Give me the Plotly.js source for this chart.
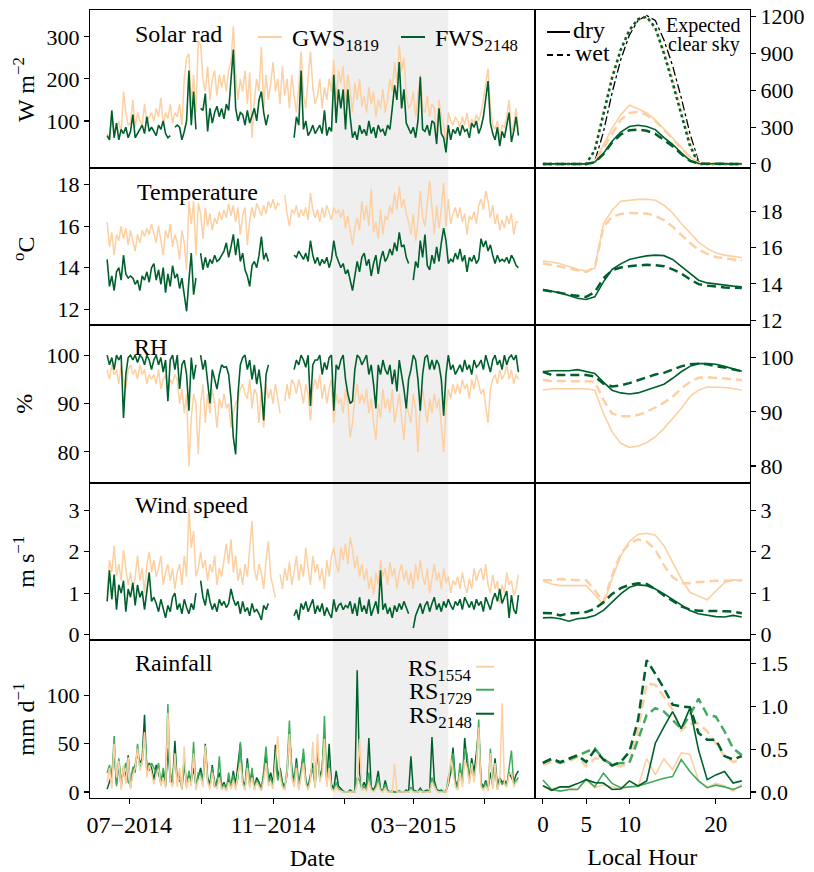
<!DOCTYPE html>
<html><head><meta charset="utf-8">
<script src="https://cdn.plot.ly/plotly-3.0.1.min.js"></script>
<style>body{margin:0;background:#fff}#plot{width:814px;height:872px}</style>
</head><body><div id="plot"></div>
<script>
// ---------------- DATA ----------------
const startDate = '2014-06-12';
const stepDays = 2;
const shadeStart = '2014-12-22';
const shadeEnd = '2015-03-31';

const solarGWS = [70,60,110,75,85,100,70,170,120,90, 95,150,85,120,100,90,140,95,110,120,
 100,130,110,155,90,120,105,140,95,120, 110,140,90,200,250,260,140,210,120,290,
 280,200,170,230,150,200,220,160,210,180, 210,170,220,240,325,210,150,200,170,220,
 140,215,60,150,200,170,275,130,210,150, 190,240,170,200,140,230,160,200,130,210,
 160,120,180,265,160,130,200,265,180,140, 160,200,130,180,150,200,170,245,150,220,
 190,230,140,210,170,120,190,150,200,135, 160,120,180,140,170,110,150,130,175,120,
 150,200,170,240,190,280,220,250,160,130, 140,170,110,160,210,130,120,160,110,140,
 130,60,150,110,90,40,120,100,90,110, 100,85,110,90,120,80,105,95,115,100,
 120,150,190,225,130,90,80,100,60,90, 85,110,150,70,95,130,80];
const solarFWS = [65,55,125,60,95,55,80,70,85,60, 75,115,60,70,80,90,70,110,75,85,
 75,65,90,80,100,70,60,65,null,85, 90,85,55,75,100,220,90,170,80,null,
 130,125,165,75,130,95,120,135,110,130, 105,140,125,200,270,130,100,120,115,90,
 125,95,110,130,100,150,170,120,90,115, null,null,null,null,null,null,null,null,null,null,
 60,110,90,220,80,100,65,75,90,70, 80,90,70,125,65,85,75,210,95,175,
 130,175,80,175,110,60,75,55,90,70, 80,65,100,70,85,60,90,75,80,65,
 90,80,130,185,150,240,130,175,95,80, 70,85,60,100,205,80,75,90,65,100,
 95,45,130,70,60,25,90,55,80,70, 85,65,90,75,80,60,95,85,100,70,
 85,110,150,195,95,70,55,85,40,75, 60,95,120,50,75,110,65];

const tempGWS = [16.2,15.0,15.7,14.6,15.6,15.3,16.0,15.4,15.9,15.1, 15.8,15.3,14.8,15.6,15.2,15.8,15.5,15.9,15.6,16.1,
 15.7,15.2,16.0,15.3,14.6,15.8,15.4,16.1,15.0,15.6, 15.2,14.4,15.8,15.2,13.9,17.2,16.1,17.2,14.6,17.1,
 16.6,15.4,16.9,16.0,16.6,15.8,16.4,16.1,16.7,16.3, 16.8,16.4,17.1,16.5,17.0,16.2,16.9,15.6,16.5,16.9,
 15.1,16.3,16.9,16.4,17.1,16.8,16.5,17.0,16.6,17.2, 16.9,17.3,16.8,17.1,17.0,null,17.5,16.6,16.0,16.8,
 16.6,17.0,16.4,16.8,16.5,16.9,16.3,17.6,16.8,16.4, 16.8,16.2,16.9,16.4,17.0,16.6,16.3,16.9,16.6,16.8,
 16.4,16.8,15.9,16.5,15.7,15.1,15.9,16.4,15.8,17.2, 16.3,17.0,16.0,17.8,15.7,16.2,15.4,16.8,15.6,16.5,
 16.3,17.0,16.6,17.6,16.8,17.9,16.9,17.3,16.6,16.2, 15.6,16.6,15.3,16.2,17.7,16.4,16.0,17.2,18.2,16.9,
 15.6,17.0,15.9,16.8,18.1,16.0,17.3,16.1,16.6,16.9, 16.4,16.9,16.2,16.6,15.6,16.5,16.3,16.7,16.1,17.0,
 17.3,16.8,17.7,17.2,16.4,17.0,16.1,16.6,15.8,16.3, 15.9,16.5,16.1,16.6,15.6,16.2,16.2];
const tempFWS = [14.4,13.1,13.6,12.9,13.8,14.0,13.4,14.6,13.7,13.5, 13.6,13.5,13.2,13.4,12.9,13.6,13.4,13.8,13.3,14.0,
 14.2,13.4,13.9,13.2,14.0,12.8,13.7,13.1,14.1,13.5, 13.7,13.0,13.5,12.6,11.9,13.4,14.7,12.7,13.5,null,
 14.7,13.9,14.5,14.0,14.4,14.2,14.6,14.3,14.4,14.6, 14.8,15.2,14.5,15.0,15.6,14.6,15.4,14.3,14.7,13.9,
 13.6,13.1,14.1,14.3,14.0,14.6,15.5,14.4,14.7,14.3, null,null,null,null,null,null,null,null,null,null,
 14.6,14.5,14.8,14.6,14.4,14.7,14.3,15.3,14.6,14.2, 14.5,14.1,14.4,14.2,14.5,14.0,14.4,15.3,14.6,14.3,
 14.0,14.2,13.7,13.9,13.4,12.9,13.6,14.3,13.8,14.5, 14.7,14.1,14.4,13.6,14.2,14.6,13.7,14.4,14.8,14.3,
 14.5,14.9,14.6,15.2,14.8,15.7,15.0,15.1,14.5,14.2, null,13.4,14.3,14.0,15.3,14.5,15.6,14.1,13.9,14.6,
 14.2,15.0,14.3,15.2,15.9,15.3,14.2,14.4,14.3,14.7, 14.4,14.9,14.3,14.6,13.8,14.5,14.3,14.6,14.2,14.4,
 15.4,15.0,15.3,14.8,15.1,14.6,14.2,14.6,14.3,14.4, 14.3,14.5,14.2,14.6,14.4,14.1,14.0];

const rhGWS = [97,95,98,96,97,94,98,95,93,97, 98,96,97,95,98,96,97,94,96,95,
 96,94,97,93,95,96,92,95,94,96, 95,90,93,88,92,77,87,92,90,79.5,
 90,94,86,92,88,93,90,85,91,89, 92,89,90,85,88,90,91,93,94,92,
 91,95,89,93,92,86,93,85,94,91, 93,90,94,91,88,null,90.5,94,91,95,
 94,92,95,93,90,94,92,86.5,93,95, 93,96,91,94,90,93,95,86,92,90,
 91,88,93,90,83,86,91,94,90,92, 90,93,88,91,86,82.5,90,87,93,89,
 91,88,93,86,89,92,87,82.5,90,88, 86,92,89,80,90,93,89,86,91,88,
 92,89,91,86,80,89,93,91,94,92, 94,92,95,93,94,91,95,93,96,94,
 92,93,89.5,86,93,95,96,94,97,95, 96,98,95,97,94,96,95];
const rhFWS = [100,98,99.5,97,100,99,100,87,96,99.5, 100,99,100,98.5,100,99.5,98,100,99,97,
 99,100,98,99.5,96.5,99,90.5,99,100,97, 100,93,98,99,96,88.5,99.5,95,98,null,
 100,97,99,94,90,97,95,93,96,98, 97.5,97.6,96,91,83,79.5,92,98,99.5,100,
 97,99,95,98,94,97,93,86.5,96,98, null,null,null,null,null,null,null,null,null,null,
 97,99,98,100,99,97.5,100,89.5,98,99, 99,100,96,98.5,97,99.5,100,88.5,98,97,
 99,100,95,92,90,90.5,97,100,99.5,98, 99,100,96,98,94,89,98,96,99,97,
 96,98,94,97,92.5,99,96,93,89,95, 97,100,99,95,88.5,96,99.5,100,97,99,
 97,99,98,95,87.5,96,100,97,98,96, 97,98,96.5,99,97,98,96,99,97.5,98,
 99,97,100,98,96.5,99,100,98,99,97, 100,98,99.5,100,99,100,96.5];

const windGWS = [1.0,1.8,1.5,2.15,1.4,1.7,1.3,2.05,1.6,1.2, 1.5,1.1,1.4,1.9,1.3,1.6,1.0,1.7,2.0,1.5,
 1.8,1.4,1.6,1.9,1.2,1.5,1.7,1.3,1.6,1.1, 1.5,1.7,1.2,1.9,1.4,3.05,2.1,2.5,1.4,1.6,
 2.0,1.6,1.8,1.3,1.7,1.5,1.9,1.2,1.6,1.4, 1.8,2.2,1.7,2.3,1.5,1.9,1.3,1.6,1.2,1.7,
 1.4,2.0,2.75,1.6,1.3,1.7,1.5,1.1,1.8,2.25, 1.4,1.15,0.9,null,1.45,1.1,1.6,1.3,1.75,1.2,
 1.5,1.9,1.3,1.7,1.4,2.1,1.6,1.2,1.9,1.5, 1.7,1.3,1.6,1.1,1.8,1.4,1.9,2.1,1.7,1.5,
 2.1,1.8,2.2,1.7,2.35,2.05,1.6,1.9,1.4,1.7, 1.3,1.6,1.1,1.4,0.95,1.5,1.2,1.8,1.4,1.6,
 1.2,1.75,1.4,1.6,1.1,1.5,1.7,1.3,1.55,1.2, 1.5,1.1,1.7,1.3,1.8,1.4,1.2,1.6,1.0,1.4,
 1.7,1.3,1.5,1.1,1.6,1.25,1.4,1.0,1.3,1.2, 1.4,1.1,1.5,1.2,1.0,1.35,1.1,1.6,1.3,1.5,
 1.6,1.3,1.7,1.2,1.0,1.45,1.1,1.3,0.75,1.2, 1.0,1.5,1.2,1.3,0.95,1.1,1.45];
const windFWS = [0.8,1.55,0.85,1.45,0.6,1.2,1.0,1.3,0.55,1.1, 0.9,1.25,0.7,1.2,0.9,1.05,0.6,1.0,1.5,0.8,
 0.9,0.75,0.55,0.85,0.65,0.4,0.7,0.55,0.9,1.0, 0.6,0.75,0.5,0.85,0.65,0.5,0.75,0.6,1.0,null,
 1.3,0.9,0.7,1.1,0.8,0.6,0.75,0.55,0.85,0.7, 0.8,0.65,0.75,1.1,0.85,0.7,0.8,0.5,0.8,0.55,
 0.65,0.45,0.75,0.55,0.6,0.5,0.35,0.7,0.6,0.75, null,null,null,null,null,null,null,null,null,null,
 0.45,0.6,0.35,0.75,0.6,0.8,0.55,0.7,0.85,0.5, 0.7,0.55,0.75,0.45,0.65,0.5,0.4,0.85,0.55,0.7,
 0.75,0.6,0.7,0.65,0.8,0.5,0.75,0.45,0.9,0.55, 0.7,0.5,0.85,0.45,0.6,0.8,0.5,1.55,0.6,0.75,
 0.5,0.65,0.4,0.7,0.55,0.75,0.6,0.8,0.65,0.5, null,0.15,0.45,0.6,0.75,0.5,0.7,0.8,0.55,0.75,
 0.9,0.6,0.75,0.55,0.8,0.65,0.85,0.7,0.6,0.8, 0.7,0.85,0.6,0.9,0.75,0.65,0.8,0.6,0.85,0.7,
 0.8,0.55,0.9,0.75,0.6,0.85,1.0,0.8,1.1,0.75, 0.9,1.05,0.4,0.95,0.6,0.5,0.95];

const rain2148 = [3,10,18,45,8,30,5,25,15,38, 5,22,28,40,30,35,80,20,30,25,
 12,28,18,10,20,6,45,15,8,53, 10,20,3,30,8,18,12,25,6,15,
 25,10,50,15,8,28,5,12,20,6, 10,3,14,6,22,8,28,50,12,6,
 35,8,20,5,15,10,3,18,40,12, 20,8,49,15,25,10,5,18,60,25,
 10,35,6,22,40,12,5,18,30,8, 45,15,25,60,10,50,8,3,22,6,
 3,1,0,0,2,0,1,126,20,5, 10,4,56,5,2,8,22,3,1,12,
 2,0,1,0,0,1,0,0,2,0, 37,2,1,0,4,0,1,2,0,57,
 12,3,1,2,0,1,8,20,46,12, 5,25,10,56,30,15,35,20,40,65,
 10,5,12,3,20,8,35,5,15,10, 12,8,20,15,10,18,22];
const rain1729 = [20,28,10,58,6,35,12,20,30,10, 8,26,20,50,25,30,60,28,22,30,
 25,20,30,8,25,12,91,10,20,30, 15,12,8,35,5,22,10,52,4,20,
 20,8,45,12,5,25,10,6,37,4, 8,2,20,4,18,5,15,52,10,3,
 30,6,25,3,12,8,2,22,47,10, 15,5,35,12,20,8,3,25,74,20,
 8,30,4,18,45,10,3,15,25,5, 48,12,20,79,8,30,5,2,10,3,
 2,0,0,0,1,0,0,15,12,3, 6,2,20,3,1,5,15,2,1,8,
 1,0,0,0,0,0,0,0,1,0, 5,1,0,0,2,0,0,1,0,15,
 8,2,0,1,0,0,15,25,40,10, 3,30,8,45,40,12,25,15,30,75,
 8,3,10,2,45,5,25,3,12,8, 10,6,25,43,8,12,15];
const rain1554 = [10,25,4,50,15,32,2,28,8,36, 3,18,25,45,22,30,62,15,28,20,
 8,18,24,6,15,4,82,12,5,40, 5,25,2,47,3,14,6,40,2,12,
 15,5,48,10,3,20,6,3,15,2, 5,1,10,3,12,2,20,30,8,2,
 25,4,15,2,10,5,1,12,30,6, 10,3,35,58,15,5,2,20,60,15,
 5,25,2,15,30,8,2,12,52,4, 60,10,18,55,5,25,3,1,5,2,
 1,0,0,0,0,0,0,8,55,2, 3,1,10,2,0,3,8,1,0,4,
 0,0,0,29,0,0,0,0,0,0, 2,0,0,0,1,0,0,0,0,10,
 5,1,0,0,0,0,10,35,20,5, 2,20,5,33,25,8,30,10,28,67,
 5,2,6,1,40,3,30,2,10,92, 8,5,18,20,5,10,12];

// Diurnal (local hour)
const hours = [0,1,2,3,4,5,6,7,8,9,10,11,12,13,14,15,16,17,18,19,20,21,22,23];
const solGWSdry = [0,0,0,0,0,0,20,150,290,400,478,450,415,360,285,210,130,60,5,0,0,0,0,0];
const solGWSwet = [0,0,0,0,0,0,15,130,255,360,415,425,400,350,280,205,125,55,5,0,0,0,0,0];
const solFWSdry = [0,0,0,0,0,0,15,85,185,260,305,315,305,280,215,160,90,30,3,0,0,0,0,0];
const solFWSwet = [0,0,0,0,0,0,12,80,175,240,275,280,270,245,195,145,80,25,2,0,0,0,0,0];
const clearGWS = [0,0,0,0,0,0,130,420,720,940,1095,1175,1195,1100,920,690,440,180,5,0,0,0,0,0];
const clearFWS = [0,0,0,0,0,0,110,400,700,930,1090,1180,1200,1110,900,660,400,150,0,0,0,0,0,0];
const clearModel = [0,0,0,0,0,0,20,260,580,850,1050,1170,1210,1170,1010,800,540,250,20,0,0,0,0,0];
const tGWSdry = [15.25,15.2,15.1,14.95,14.8,14.7,14.85,17.3,18.05,18.55,18.62,18.65,18.66,18.6,18.33,17.9,17.32,16.8,16.3,15.95,15.7,15.58,15.5,15.45];
const tGWSwet = [15.12,15.05,14.95,14.85,14.75,14.66,14.9,17.13,17.69,17.85,17.9,17.9,17.87,17.75,17.5,17.15,16.68,16.25,15.89,15.65,15.48,15.4,15.32,15.27];
const tFWSdry = [13.69,13.6,13.5,13.35,13.2,13.14,13.28,14.11,14.79,15.1,15.34,15.45,15.54,15.58,15.55,15.34,14.97,14.55,14.2,14.05,13.98,13.92,13.87,13.83];
const tFWSwet = [13.66,13.6,13.5,13.4,13.32,13.28,13.55,14.3,14.75,14.9,14.97,15.02,15.05,15.03,14.97,14.8,14.57,14.25,13.98,13.9,13.83,13.8,13.78,13.77];
const rhGWSdry = [94.0,94.26,94.26,94.26,94.26,94.26,94.0,89.7,86.3,84.2,83.45,83.7,84.3,85.4,86.95,88.8,90.6,92.8,94.0,94.6,94.6,94.5,94.3,94.0];
const rhGWSwet = [95.9,95.7,95.7,95.7,95.7,95.7,95.6,92.2,89.7,89.2,89.2,89.4,90.0,90.8,91.7,92.8,94.3,95.5,96.3,96.4,96.3,96.2,96.0,95.9];
const rhFWSdry = [97.4,97.6,97.6,97.6,97.8,97.4,97.1,95.5,94.0,93.5,93.3,93.5,94.0,94.5,95.1,96.2,97.4,98.4,98.9,98.9,98.8,98.4,98.0,97.5];
const rhFWSwet = [97.4,96.8,96.8,96.8,96.8,96.8,96.5,95.2,94.7,94.9,95.3,95.8,96.4,96.9,97.2,97.8,98.4,98.8,98.9,98.8,98.4,98.2,97.8,97.5];
const wGWSdry = [1.30,1.22,1.18,1.18,1.18,1.18,0.96,0.72,1.35,1.90,2.25,2.42,2.45,2.40,2.15,1.75,1.35,1.02,0.92,0.84,1.05,1.25,1.32,1.30];
const wGWSwet = [1.31,1.31,1.34,1.32,1.31,1.31,1.07,0.78,1.43,1.95,2.2,2.30,2.25,2.05,1.67,1.39,1.24,1.24,1.27,1.28,1.30,1.30,1.31,1.31];
const wFWSdry = [0.40,0.41,0.38,0.32,0.38,0.40,0.46,0.58,0.78,0.98,1.14,1.20,1.18,1.10,0.98,0.84,0.70,0.58,0.50,0.46,0.43,0.42,0.46,0.42];
const wFWSwet = [0.52,0.51,0.46,0.51,0.52,0.54,0.62,0.78,0.98,1.12,1.20,1.24,1.22,1.10,0.94,0.81,0.68,0.60,0.57,0.57,0.57,0.56,0.55,0.51];
const r2148dry = [0.073,0.02,0.06,0.06,0.098,0.144,0.11,0.105,0.03,0.035,0.13,0.07,0.13,0.57,0.76,0.94,0.74,0.98,0.49,0.144,0.2,0.24,0.105,0.13];
const r1554dry = [0.073,0.035,0.06,0.05,0.03,0.14,0.05,0.085,0.06,0.035,0.06,0.06,0.39,0.2,0.39,0.26,0.46,0.44,0.13,0.05,0.1,0.07,0.01,0.085];
const r1729dry = [0.14,0.03,0.01,0.03,0.03,0.15,0.06,0.22,0.1,0.05,0.06,0.07,0.1,0.13,0.16,0.18,0.38,0.24,0.13,0.05,0.08,0.06,0.03,0.07];
const r2148wet = [0.34,0.39,0.35,0.39,0.43,0.35,0.49,0.38,0.31,0.35,0.47,0.84,1.54,1.38,1.21,1.02,1.0,0.99,0.69,0.61,0.61,0.42,0.38,0.42];
const r1554wet = [0.32,0.35,0.34,0.36,0.41,0.30,0.39,0.39,0.32,0.30,0.34,0.72,1.27,1.25,1.11,0.96,0.72,0.8,0.8,0.71,0.57,0.42,0.35,0.39];
const r1729wet = [0.34,0.38,0.34,0.38,0.42,0.47,0.51,0.38,0.32,0.34,0.34,0.61,0.9,0.98,0.94,0.84,0.74,0.9,1.09,0.9,0.88,0.71,0.51,0.43];

// ---------------- BUILD ----------------
const dates = solarGWS.map((_, i) => {
  const d = new Date(startDate + 'T00:00:00Z');
  d.setUTCDate(d.getUTCDate() + i * stepDays);
  return d.toISOString().slice(0, 10);
});

const cG = '#fdd0a2', cF = '#00602d', cM = '#41ab5d';
const FONT = 'Liberation Serif, Times New Roman, serif';
const L = 90, R = 750, T = 10, B = 798.3;
const px = x => (x - L) / (R - L);
const py = y => (B - y) / (B - T);
const split = px(534.7);

const traces = [];
function ax(r, right) { const n = 2 * r - (right ? 0 : 1); return n === 1 ? '' : String(n); }
function ts(y, color, r, w) {
  traces.push({x: dates, y, type: 'scatter', mode: 'lines', line: {color, width: w || 1.5},
    xaxis: 'x' + ax(r, false), yaxis: 'y' + ax(r, false), showlegend: false, hoverinfo: 'skip'});
}
function hr(y, color, r, dash, w) {
  traces.push({x: hours, y, type: 'scatter', mode: 'lines', line: {color, width: w || 1.6, dash: dash || 'solid'},
    xaxis: 'x' + ax(r, true), yaxis: 'y' + ax(r, true), showlegend: false, hoverinfo: 'skip'});
}
const DASH = '9px,5px';
ts(solarGWS, cG, 1, 1.5); ts(solarFWS, cF, 1, 1.6);
ts(tempGWS, cG, 2, 1.5); ts(tempFWS, cF, 2, 1.6);
ts(rhGWS, cG, 3, 1.5); ts(rhFWS, cF, 3, 1.6);
ts(windGWS, cG, 4, 1.5); ts(windFWS, cF, 4, 1.6);
ts(rain2148, cF, 5, 1.5); ts(rain1729, cM, 5, 1.5); ts(rain1554, cG, 5, 1.5);

hr(clearModel, '#000', 1, 'dashdot', 1.3);
hr(clearGWS, cG, 1, 'dot', 2.5); hr(clearFWS, cF, 1, 'dot', 2.5);
hr(solGWSdry, cG, 1); hr(solGWSwet, cG, 1, DASH, 2.5);
hr(solFWSdry, cF, 1); hr(solFWSwet, cF, 1, DASH, 2.5);
hr(tGWSdry, cG, 2); hr(tGWSwet, cG, 2, DASH, 2.5);
hr(tFWSdry, cF, 2); hr(tFWSwet, cF, 2, DASH, 2.5);
hr(rhGWSdry, cG, 3); hr(rhGWSwet, cG, 3, DASH, 2.5);
hr(rhFWSdry, cF, 3); hr(rhFWSwet, cF, 3, DASH, 2.5);
hr(wGWSdry, cG, 4); hr(wGWSwet, cG, 4, DASH, 2.5);
hr(wFWSdry, cF, 4); hr(wFWSwet, cF, 4, DASH, 2.5);
hr(r1554wet, cG, 5, DASH, 2.5); hr(r1729wet, cM, 5, DASH, 2.5); hr(r2148wet, cF, 5, DASH, 2.5);
hr(r1554dry, cG, 5); hr(r1729dry, cM, 5); hr(r2148dry, cF, 5);

const tickFont = {family: FONT, size: 22, color: '#000'};
const base = {showline: true, mirror: true, linecolor: '#000', linewidth: 1, showgrid: false, zeroline: false,
  ticks: 'outside', ticklen: 5, tickwidth: 1.1, tickcolor: '#000', tickfont: tickFont, fixedrange: true};

const leftY = [
  {range: [-11, 364], tickvals: [100, 200, 300]},
  {range: [11.23, 18.82], tickvals: [12, 14, 16, 18]},
  {range: [73.6, 106.2], tickvals: [80, 90, 100]},
  {range: [-0.145, 3.67], tickvals: [0, 1, 2, 3]},
  {range: [-6.2, 157], tickvals: [0, 50, 100]}];
const rightY = [
  {range: [-30, 1255], tickvals: [0, 300, 600, 900, 1200]},
  {range: [11.72, 20.4], tickvals: [12, 14, 16, 18]},
  {range: [76.9, 106.0], tickvals: [80, 90, 100]},
  {range: [-0.145, 3.67], tickvals: [0, 1, 2, 3]},
  {range: [-0.07, 1.771], tickvals: [0, 0.5, 1, 1.5], ticktext: ['0.0', '0.5', '1.0', '1.5']}];

const layout = {width: 814, height: 872, margin: {l: L, r: 814 - R, t: T, b: 872 - B},
  paper_bgcolor: '#fff', plot_bgcolor: 'rgba(0,0,0,0)', font: {family: FONT, color: '#000'},
  showlegend: false, shapes: [], annotations: []};

const dateTicks = ['2014-07-01', '2014-09-01', '2014-11-01', '2015-01-01', '2015-03-01', '2015-05-01'];
const dateText = ['07\u22122014', '', '11\u22122014', '', '03\u22122015', ''];

for (let r = 1; r <= 5; r++) {
  const dom = [1 - 0.2 * r, 1 - 0.2 * (r - 1)];
  const lx = 'xaxis' + ax(r, false), rx = 'xaxis' + ax(r, true);
  const ly = 'yaxis' + ax(r, false), ry = 'yaxis' + ax(r, true);
  const bottom = r === 5;
  layout[lx] = Object.assign({}, base, {type: 'date', domain: [0, split], anchor: 'y' + ax(r, false),
    range: ['2014-05-28 08:00', '2015-06-12 22:00'], tickvals: dateTicks, ticktext: dateText,
    showticklabels: bottom, ticks: bottom ? 'outside' : '', tickfont: {family: FONT, size: 24, color: '#000'}});
  layout[rx] = Object.assign({}, base, {domain: [split, 1], anchor: 'y' + ax(r, true), range: [-0.95, 23.95],
    tickvals: [0, 5, 10, 20], showticklabels: bottom, ticks: bottom ? 'outside' : '', tickfont: {family: FONT, size: 23, color: '#000'}});
  layout[ly] = Object.assign({}, base, leftY[r - 1], {domain: dom, anchor: 'x' + ax(r, false)});
  layout[ry] = Object.assign({}, base, rightY[r - 1], {domain: dom, anchor: 'x' + ax(r, true), side: 'right'});
  layout.shapes.push({type: 'rect', xref: 'x' + ax(r, false), yref: 'y' + ax(r, false) + ' domain',
    x0: shadeStart, x1: shadeEnd, y0: 0, y1: 1, fillcolor: '#efefef', line: {width: 0}, layer: 'below'});
}
layout.xaxis9.title = {text: 'Date', font: {family: FONT, size: 24}, standoff: 12};
layout.xaxis10.title = {text: 'Local Hour', font: {family: FONT, size: 24}, standoff: 12};

function ann(text, x, y, opts) {
  layout.annotations.push(Object.assign({text, xref: 'paper', yref: 'paper', x: px(x), y: py(y),
    showarrow: false, xanchor: 'left', yanchor: 'middle', font: {family: FONT, size: 24, color: '#000'}}, opts || {}));
}
function seg(x0, x1, y, color, dash, w) {
  layout.shapes.push({type: 'line', xref: 'paper', yref: 'paper', x0: px(x0), x1: px(x1), y0: py(y), y1: py(y),
    line: {color, width: w || 2, dash: dash || 'solid'}});
}
// panel labels
ann('Solar rad', 133, 34); ann('Temperature', 135, 192); ann('RH', 132, 347);
ann('Wind speed', 133, 505); ann('Rainfall', 133, 663);
// y titles
const yt = {xanchor: 'center', textangle: -90};
ann('W m<sup>\u22122</sup>', 24, 90, yt); ann('<sup>o</sup>C', 24, 249, yt); ann('%', 24, 404, yt);
ann('m s<sup>\u22121</sup>', 24, 562, yt); ann('mm d<sup>\u22121</sup>', 24, 720, yt);
// legend GWS/FWS
seg(258, 282, 37, cG, 'solid', 2); ann('GWS<sub>1819</sub>', 290, 40);
seg(401, 425, 37, cF, 'solid', 2); ann('FWS<sub>2148</sub>', 433, 40);
// dry / wet
seg(547, 570, 32, '#000', 'solid', 2); ann('dry', 571, 30);
seg(547, 570, 55, '#000', '6px,4px', 2); ann('wet', 573, 53);
ann('Expected', 742, 26, {xanchor: 'right', font: {family: FONT, size: 20, color: '#000'}});
ann('clear sky', 742, 45, {xanchor: 'right', font: {family: FONT, size: 20, color: '#000'}});
// rain legend
ann('RS<sub>1554</sub>', 474, 670, {xanchor: 'right'}); seg(476, 494, 667, cG, 'solid', 2);
ann('RS<sub>1729</sub>', 474, 693, {xanchor: 'right'}); seg(476, 494, 690, cM, 'solid', 2);
ann('RS<sub>2148</sub>', 474, 717, {xanchor: 'right'}); seg(476, 494, 714, cF, 'solid', 2);

Plotly.newPlot('plot', traces, layout, {staticPlot: true});
</script>
</body></html>
